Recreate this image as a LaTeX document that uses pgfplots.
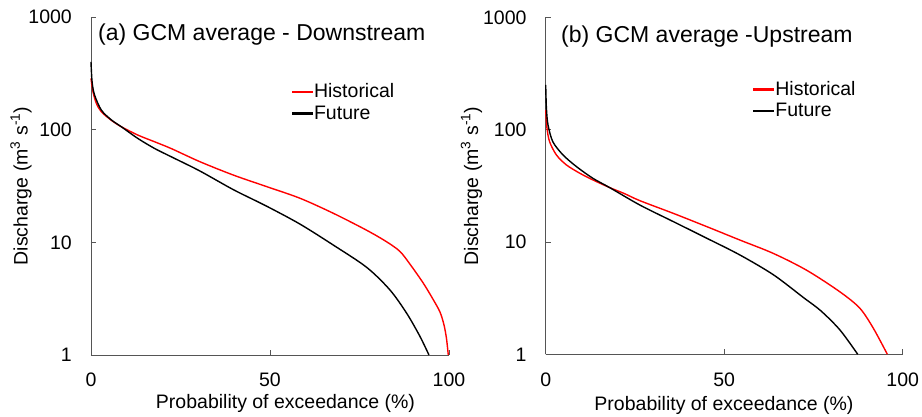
\documentclass[border=0pt]{standalone}
\usepackage{pgfplots}
\pgfplotsset{compat=1.18}
\usepackage{fontspec}
\setmainfont{Liberation Sans}
\definecolor{axgray}{HTML}{555555}
\definecolor{histred}{HTML}{FF0000}
\newcommand{\tfont}{\fontsize{19.5}{23.5}\selectfont}
\pgfplotsset{
  fdc/.style={
    scale only axis,
    xmin=0, xmax=100, ymin=1, ymax=1000,
    axis lines*=left, axis line style={axgray, line width=0.9pt, -},
    tick align=inside, major tick length=5pt,
    every tick/.style={axgray, line width=0.9pt},
    xtick={0,50,100}, xticklabels={0,50,100},
    ytick={1,10,100,1000}, yticklabels={1,10,100,1000},
    yminorticks=false,
    tick label style={font=\tfont},
    yticklabel style={anchor=east, inner sep=0pt, xshift=-19pt},
    xticklabel style={anchor=north, inner sep=0pt, yshift=-18pt},
    legend cell align=left,
    legend style={draw=none, fill=none, font=\tfont, inner sep=0pt,
      anchor=north west, row sep=5.5pt,
      nodes={inner xsep=2pt, inner ysep=0.5pt}},
    clip=false,
  },
  redleg/.style={legend image code/.code={\fill[histred] (0pt,-0.7pt) rectangle (20pt,0.7pt);}},
  blackleg/.style={legend image code/.code={\fill[black] (0pt,-0.7pt) rectangle (20pt,0.7pt);}},
}
\begin{document}
\begin{tikzpicture}
\path[use as bounding box] (0pt,0pt) rectangle (922pt,417pt);
% (a) Downstream
\begin{semilogyaxis}[fdc, width=358pt, height=338pt, at={(91pt,62pt)}, anchor=south west,
  legend style={at={(rel axis cs:0.56,0.805)}}]
\addlegendimage{redleg}
\addlegendentry{Historical}
\addlegendimage{blackleg}
\addlegendentry{Future}
\addplot[histred, line width=1.4pt, smooth, tension=0.5, forget plot] coordinates {
(0,285) (0.55,217) (1.5,171) (2.9,144) (5.7,121) (8.5,106) (13.1,89.5) (17.8,78) (22.4,68) (30.4,52) (39.8,39.5) (49.1,31.2) (58.4,24.6) (67.7,18.1) (77,12.8) (82.6,10.1) (86.3,8.3) (89.1,6.4) (92.8,4.35) (95.6,3.1) (97.5,2.4) (98.6,1.85) (99.3,1.4) (99.8,1)};
\addplot[black, line width=1.4pt, smooth, tension=0.5, forget plot] coordinates {
(0,400) (0.3,266) (1.0,203) (2.9,149) (5.7,122) (8.5,106) (13.1,83.5) (17.8,68) (22.4,57.5) (30.4,43) (39.8,29.3) (49.1,20.9) (58.4,14.5) (67.7,9.45) (77,6.0) (83.5,3.78) (88.2,2.34) (91.9,1.46) (94.4,1)};
\end{semilogyaxis}
% (b) Upstream
\begin{semilogyaxis}[fdc, width=357pt, height=337pt, at={(545.7pt,62.7pt)}, anchor=south west,
  legend style={at={(rel axis cs:0.58,0.812)}}]
\addlegendimage{redleg}
\addlegendentry{Historical}
\addlegendimage{blackleg}
\addlegendentry{Future}
\addplot[histred, line width=1.4pt, smooth, tension=0.5, forget plot] coordinates {
(0,150) (0.36,103) (1.1,78) (3.0,59.5) (5.8,48.5) (9.5,41) (13.2,35.7) (17.9,30.5) (22,27) (26.4,23.3) (35.7,18.0) (45.1,13.7) (54.4,10.4) (63.8,7.9) (73.1,5.6) (82.4,3.6) (88,2.57) (91.8,1.7) (95.7,1)};
\addplot[black, line width=1.4pt, smooth, tension=0.5, forget plot] coordinates {
(0,250) (0.2,155) (0.65,110) (2.0,78) (4.85,59.5) (8.6,46.9) (13.2,36.9) (17.9,30.5) (26.4,21.3) (35.7,15.2) (45.1,10.8) (54.4,7.66) (63.8,5.1) (72.2,3.2) (77,2.45) (82.4,1.65) (87.4,1)};
\end{semilogyaxis}
% titles and labels
\node[anchor=base west, inner sep=0pt, font=\fontsize{23}{27}\selectfont] at (98pt,376.3pt) {(a) GCM average - Downstream};
\node[anchor=base west, inner sep=0pt, font=\fontsize{23}{27}\selectfont] at (561pt,374.3pt) {(b) GCM average -Upstream};
\node[rotate=90, inner sep=0pt, font=\tfont] at (21pt,231pt) {Discharge (m\textsuperscript{3} s\textsuperscript{-1})};
\node[rotate=90, inner sep=0pt, font=\tfont] at (471.5pt,231pt) {Discharge (m\textsuperscript{3} s\textsuperscript{-1})};
\node[anchor=base, inner sep=0pt, font=\tfont] at (285.5pt,8.5pt) {Probability of exceedance (\%)};
\node[anchor=base, inner sep=0pt, font=\tfont] at (724pt,6.5pt) {Probability of exceedance (\%)};
\end{tikzpicture}
\end{document}
